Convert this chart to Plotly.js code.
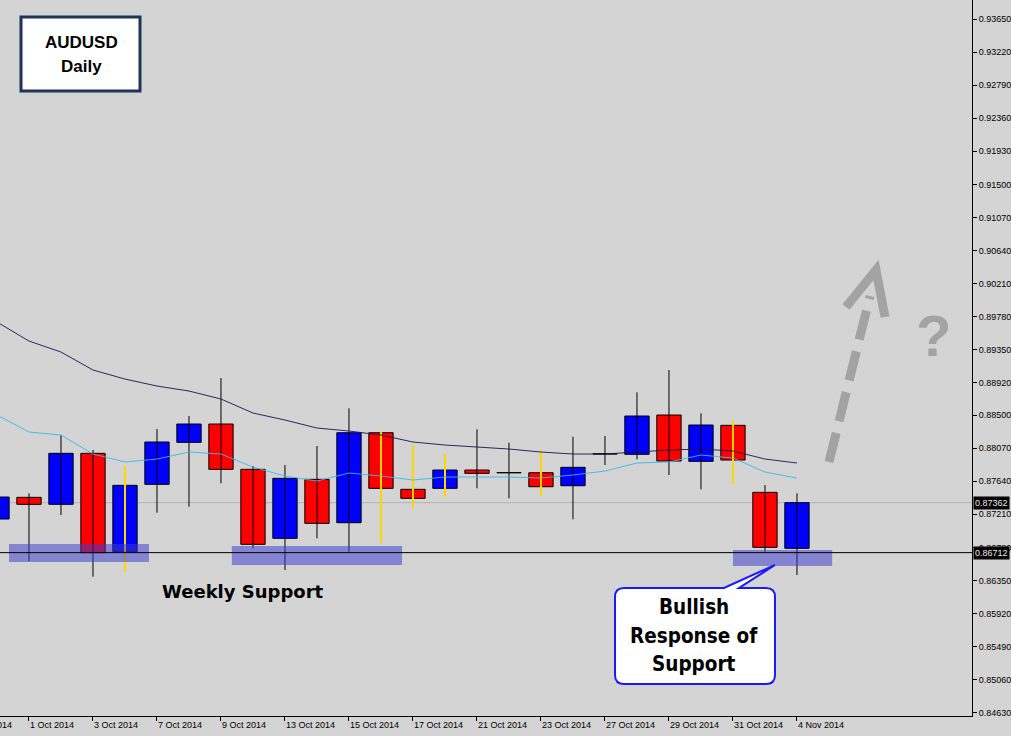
<!DOCTYPE html>
<html>
<head>
<meta charset="utf-8">
<script src="https://cdn.plot.ly/plotly-3.0.1.min.js"></script>
<style>
  html, body { margin: 0; padding: 0; background: #d4d4d4; }
  #chart { width: 1011px; height: 736px; }
</style>
</head>
<body>
<div id="chart"></div>
<script>
// ---------- DATA ----------
const dates = ["30 Sep 2014","1 Oct 2014","2 Oct 2014","3 Oct 2014","6 Oct 2014","7 Oct 2014","8 Oct 2014",
  "9 Oct 2014","10 Oct 2014","13 Oct 2014","14 Oct 2014","15 Oct 2014","16 Oct 2014","17 Oct 2014",
  "20 Oct 2014","21 Oct 2014","22 Oct 2014","23 Oct 2014","24 Oct 2014","27 Oct 2014","28 Oct 2014",
  "29 Oct 2014","30 Oct 2014","31 Oct 2014","3 Nov 2014","4 Nov 2014"];
const openP  = [0.87149,0.87431,0.87340,0.88003,0.86724,0.87600,0.88146,0.88384,0.87795,0.86898,0.87665,0.87101,0.88271,
  0.87535,0.87548,0.87786,0.87752,0.87751,0.87582,0.87994,0.87990,0.88501,0.87899,0.88367,0.87496,0.86768];
const highP  = [0.87520,0.87483,0.88241,0.88046,0.87838,0.88319,0.88488,0.88982,0.87838,0.87851,0.88098,0.88588,0.88285,
  0.88111,0.87994,0.88315,0.88141,0.88046,0.88219,0.88228,0.88796,0.89086,0.88523,0.88436,0.87591,0.87483];
const lowP   = [0.86980,0.86603,0.87201,0.86399,0.86464,0.87231,0.87309,0.87613,0.86768,0.86486,0.86898,0.86724,0.86833,
  0.87288,0.87439,0.87548,0.87418,0.87448,0.87145,0.87851,0.87925,0.87721,0.87535,0.87604,0.86724,0.86421];
const closeP = [0.87435,0.87340,0.88003,0.86711,0.87587,0.88150,0.88384,0.87795,0.86820,0.87678,0.87093,0.88271,0.87548,
  0.87418,0.87786,0.87743,0.87750,0.87569,0.87821,0.87996,0.88488,0.87903,0.88371,0.87916,0.86781,0.87362];
// bars whose wick is highlighted in yellow
const yellowWick = [0,0,0,0,1,0,0,0,0,0,0,0,1,1,1,0,0,1,0,0,0,0,0,1,0,0];
const slowMA = [0.89710,0.89463,0.89320,0.89086,0.88969,0.88878,0.88813,0.88709,0.88527,0.88436,0.88332,0.88293,0.88241,
  0.88150,0.88111,0.88085,0.88059,0.88020,0.87994,0.87994,0.88020,0.88046,0.88059,0.88033,0.87929,0.87877];
const fastMA = [0.88501,0.88280,0.88241,0.87994,0.87890,0.87929,0.88020,0.87994,0.87825,0.87708,0.87643,0.87747,0.87708,
  0.87656,0.87695,0.87695,0.87695,0.87682,0.87721,0.87773,0.87877,0.87890,0.87981,0.87942,0.87760,0.87682];
const tickDates = ["1 Oct 2014","3 Oct 2014","7 Oct 2014","9 Oct 2014","13 Oct 2014","15 Oct 2014","17 Oct 2014",
  "21 Oct 2014","23 Oct 2014","27 Oct 2014","29 Oct 2014","31 Oct 2014","4 Nov 2014"];
const priceTicks = [0.93650,0.93220,0.92790,0.92360,0.91930,0.91500,0.91070,0.90640,0.90210,0.89780,0.89350,0.88920,
  0.88500,0.88070,0.87640,0.87210,0.86780,0.86350,0.85920,0.85490,0.85060,0.84630];
const supportLevel = 0.86712;
const currentPrice = 0.87362;
// support zones: [startIndex, endIndex, lowPrice, highPrice]
const zoneStart = [0.375, 7.34, 23.0];
const zoneEnd   = [4.75, 12.66, 26.1];
const zoneLow   = [0.86590, 0.86551, 0.86538];
const zoneHigh  = [0.86824, 0.86798, 0.86746];

// ---------- BUILD ----------
const bodyBase = [], bodyH = [], bodyCol = [];
for (let i = 0; i < dates.length; i++) {
  const lo = Math.min(openP[i], closeP[i]);
  let h = Math.abs(closeP[i] - openP[i]);
  if (h < 0.00002) h = 0.00002;
  bodyBase.push(lo); bodyH.push(h);
  bodyCol.push(closeP[i] >= openP[i] ? '#0000ff' : '#ff0000');
}
function wicks(flag) {
  const xs = [], ys = [];
  for (let i = 0; i < dates.length; i++) {
    if (yellowWick[i] === flag) { xs.push(dates[i], dates[i], null); ys.push(lowP[i], highP[i], null); }
  }
  return {xs, ys};
}
const bw = wicks(0), yw = wicks(1);

const traces = [
  {type:'scatter', mode:'lines', x:bw.xs, y:bw.ys, line:{color:'#000000', width:1}, connectgaps:false, hoverinfo:'skip'},
  {type:'bar', x:dates, y:bodyH, base:bodyBase, width:0.76,
   marker:{color:bodyCol, line:{color:'#000000', width:1}}, hoverinfo:'skip'},
  {type:'scatter', mode:'lines', x:yw.xs, y:yw.ys, line:{color:'#ffd700', width:2}, connectgaps:false, hoverinfo:'skip'},
  {type:'scatter', mode:'lines', x:dates, y:slowMA, line:{color:'#16164f', width:1}, opacity:0.9, hoverinfo:'skip'},
  {type:'scatter', mode:'lines', x:dates, y:fastMA, line:{color:'#3cb8e6', width:1}, opacity:0.9, hoverinfo:'skip'}
];

// pixel -> paper helpers (plot area 972 x 716)
const PW = 972, PH = 716;
const X = p => p / PW;
const Y = p => 1 - p / PH;

const shapes = [];
shapes.push({type:'line', xref:'paper', x0:0, x1:1, yref:'y', y0:currentPrice, y1:currentPrice,
  line:{color:'#b4b4b4', width:1}, layer:'below'});
for (let k = 0; k < zoneStart.length; k++) {
  shapes.push({type:'rect', xref:'x', yref:'y', x0:zoneStart[k], x1:zoneEnd[k], y0:zoneLow[k], y1:zoneHigh[k],
    fillcolor:'rgba(60,60,205,0.52)', line:{width:0}, layer:'above'});
}
shapes.push({type:'line', xref:'paper', x0:0, x1:1, yref:'y', y0:supportLevel, y1:supportLevel,
  line:{color:'#000000', width:1}, layer:'above'});
// title box
shapes.push({type:'rect', xref:'paper', yref:'paper', x0:X(21), x1:X(140), y0:Y(17), y1:Y(91),
  fillcolor:'#ffffff', line:{color:'#1d3557', width:3}, layer:'above'});
// callout box with pointer
(function(){
  const l=615, r=775, t=588, b=684, rd=9;
  const d = `M ${X(l+rd)} ${Y(t)} L ${X(724)} ${Y(t)} L ${X(775)} ${Y(565)} L ${X(739)} ${Y(t)} L ${X(r-rd)} ${Y(t)} ` +
    `Q ${X(r)} ${Y(t)} ${X(r)} ${Y(t+rd)} L ${X(r)} ${Y(b-rd)} Q ${X(r)} ${Y(b)} ${X(r-rd)} ${Y(b)} ` +
    `L ${X(l+rd)} ${Y(b)} Q ${X(l)} ${Y(b)} ${X(l)} ${Y(b-rd)} L ${X(l)} ${Y(t+rd)} Q ${X(l)} ${Y(t)} ${X(l+rd)} ${Y(t)} Z`;
  shapes.push({type:'path', xref:'paper', yref:'paper', path:d, fillcolor:'#ffffff',
    line:{color:'#1a1aff', width:2}, layer:'above'});
})();
// dashed arrow
shapes.push({type:'line', xref:'paper', yref:'paper', x0:X(829), y0:Y(462), x1:X(870), y1:Y(296),
  line:{color:'#a3a3a3', width:9, dash:'30px,12px'}, layer:'above'});
shapes.push({type:'path', xref:'paper', yref:'paper',
  path:`M ${X(846)} ${Y(307)} L ${X(876)} ${Y(270)} L ${X(885)} ${Y(317)}`,
  line:{color:'#a3a3a3', width:9}, layer:'above'});

function txt(px, py, text, family, size, color, xa, ya) {
  return {xref:'paper', yref:'paper', x:X(px), y:Y(py), text:text, showarrow:false,
    xanchor:xa || 'center', yanchor:ya || 'middle',
    font:{family:family, size:size, color:color}};
}
const SANS = 'Liberation Sans, Arial, sans-serif';
const NARROW = 'Liberation Sans Narrow, DejaVu Sans Condensed, sans-serif';
const annotations = [
  txt(81, 43, '<b>AUDUSD</b>', SANS, 17, '#000'),
  txt(81, 67, '<b>Daily</b>', SANS, 17, '#000'),
  txt(243, 591, '<b>Weekly Support</b>', 'DejaVu Sans, sans-serif', 18, '#000'),
  txt(694, 607, '<b>Bullish</b>', NARROW, 20.5, '#000'),
  txt(694, 636, '<b>Response of</b>', NARROW, 20.5, '#000'),
  txt(694, 664, '<b>Support</b>', NARROW, 20.5, '#000'),
  txt(933, 336, '<b>?</b>', SANS, 58, '#a3a3a3'),
  txt(14, 725, dates[0], SANS, 9, '#000', 'right', 'middle'),
  {xref:'paper', yref:'y', x:1, xanchor:'left', yanchor:'middle', xshift:1, y:currentPrice, text:currentPrice.toFixed(5),
   showarrow:false, bgcolor:'#000000', borderpad:1, font:{family:SANS, size:9, color:'#e8e8e8'}},
  {xref:'paper', yref:'y', x:1, xanchor:'left', yanchor:'middle', xshift:1, y:supportLevel, text:supportLevel.toFixed(5),
   showarrow:false, bgcolor:'#000000', borderpad:1, font:{family:SANS, size:9, color:'#e8e8e8'}}
];

const layout = {
  width:1011, height:736,
  margin:{l:0, r:39, t:0, b:20, pad:0},
  paper_bgcolor:'#d4d4d4', plot_bgcolor:'#d4d4d4',
  showlegend:false, hovermode:false, bargap:0,
  xaxis:{type:'category', categoryorder:'array', categoryarray:dates,
    range:[0.094, 30.47], tickmode:'array', tickvals:tickDates, ticktext:tickDates,
    ticks:'outside', ticklen:4, tickcolor:'#000', ticklabelposition:'outside right',
    showline:true, linecolor:'#000', linewidth:1, showgrid:false, zeroline:false,
    tickfont:{family:SANS, size:9, color:'#000'}, fixedrange:true},
  yaxis:{side:'right', range:[0.84588, 0.93897], tickmode:'array', tickvals:priceTicks,
    ticktext:priceTicks.map(v=>v.toFixed(5)),
    ticks:'outside', ticklen:4, tickcolor:'#000', showline:true, linecolor:'#000', linewidth:1,
    showgrid:false, zeroline:false,
    tickfont:{family:SANS, size:9, color:'#000'}, fixedrange:true},
  shapes:shapes, annotations:annotations
};

Plotly.newPlot('chart', traces, layout, {displayModeBar:false, staticPlot:true});
</script>
</body>
</html>
